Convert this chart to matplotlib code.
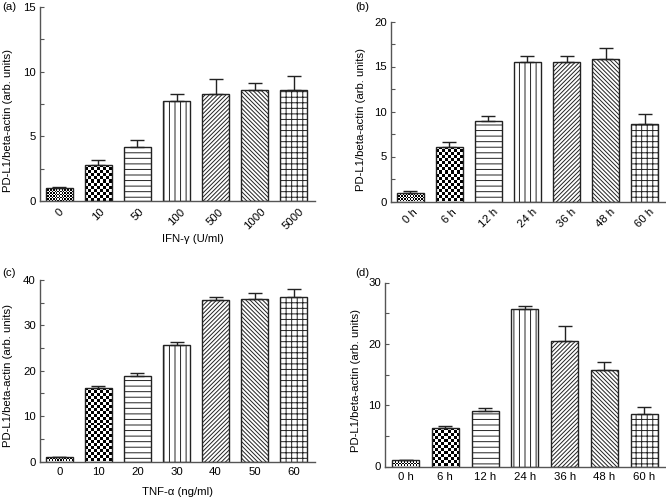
import numpy as np
import matplotlib
matplotlib.use('Agg')
import matplotlib.pyplot as plt

plt.rcParams['font.family'] = ['Liberation Sans', 'DejaVu Sans']
plt.rcParams['font.size'] = 8.2
plt.rcParams['hatch.linewidth'] = 0.7

# --- data ---
a_labels = ['0', '10', '50', '100', '500', '1000', '5000']
a_vals = [1.0, 2.8, 4.2, 7.7, 8.3, 8.55, 8.55]
a_errs = [0.1, 0.4, 0.5, 0.6, 1.1, 0.6, 1.1]

b_labels = ['0 h', '6 h', '12 h', '24 h', '36 h', '48 h', '60 h']
b_vals = [1.0, 6.1, 8.9, 15.55, 15.55, 15.8, 8.6]
b_errs = [0.15, 0.5, 0.6, 0.65, 0.65, 1.3, 1.1]

c_labels = ['0', '10', '20', '30', '40', '50', '60']
c_vals = [1.0, 16.2, 18.9, 25.6, 35.6, 35.9, 36.2]
c_errs = [0.1, 0.35, 0.6, 0.65, 0.65, 1.2, 1.8]

d_labels = ['0 h', '6 h', '12 h', '24 h', '36 h', '48 h', '60 h']
d_vals = [1.0, 6.2, 9.0, 25.6, 20.5, 15.8, 8.6]
d_errs = [0.1, 0.4, 0.6, 0.65, 2.4, 1.3, 1.1]

# fill style per bar position
patterns = ['fine', 'checker', '---', '|||', '////////', '\\\\\\\\\\\\\\\\', '+++']

EDGE = '#222222'
AXIS = '#555555'

fig = plt.figure(figsize=(6.66, 5.0), dpi=100)


def checker_fill(ax, bar, cell_px):
    # checkerboard image clipped to the bar patch
    x0, y0 = bar.get_x(), bar.get_y()
    w, h = bar.get_width(), bar.get_height()
    p0 = ax.transData.transform((x0, y0))
    p1 = ax.transData.transform((x0 + w, y0 + h))
    ncol = max(1, int(round((p1[0] - p0[0]) / cell_px)))
    nrow = max(1, int(round((p1[1] - p0[1]) / cell_px)))
    grid = np.indices((nrow, ncol)).sum(axis=0) % 2
    im = ax.imshow(grid, cmap='gray', vmin=0, vmax=1, origin='lower',
                   extent=(x0, x0 + w, y0, y0 + h), aspect='auto',
                   interpolation='nearest', zorder=1)
    im.set_clip_path(bar)


def panel(rect, labels, vals, errs, ymax, major, minor, tag, tag_xy,
          xlim, rotate, ylab_xy, xlabel=None, xlab_xy=None):
    ax = fig.add_axes(rect)
    x = np.arange(len(vals))
    ax.set_xlim(*xlim)
    ax.set_ylim(0, ymax)

    bars = ax.bar(x, vals, width=0.68, facecolor='none', edgecolor=EDGE,
                  linewidth=1.0, zorder=2)
    for bar, pat in zip(bars, patterns):
        if pat == 'checker':
            checker_fill(ax, bar, 3.0)
        elif pat == 'fine':
            checker_fill(ax, bar, 1.4)
        else:
            bar.set_hatch(pat)
    ax.errorbar(x, vals, yerr=[np.zeros(len(errs)), errs], fmt='none',
                ecolor=EDGE, elinewidth=1.0, capsize=5, capthick=1.0, zorder=3)
    ax.set_xlim(*xlim)
    ax.set_ylim(0, ymax)

    for s in ['top', 'right']:
        ax.spines[s].set_visible(False)
    for s in ['left', 'bottom']:
        ax.spines[s].set_color(AXIS)
        ax.spines[s].set_linewidth(1.0)

    ax.set_yticks(np.arange(0, ymax + 0.01, major))
    ax.set_yticks(np.arange(0, ymax + 0.01, minor), minor=True)
    ax.tick_params(axis='y', which='both', direction='in', length=3,
                   width=0.8, color=AXIS, pad=3)
    ax.set_xticks(x)
    if rotate:
        ax.set_xticklabels(labels, rotation=45, ha='center', va='top')
    else:
        ax.set_xticklabels(labels)
    ax.tick_params(axis='x', length=0, pad=4)

    ax.set_ylabel('PD-L1/beta-actin (arb. units)')
    ax.yaxis.set_label_coords(*ylab_xy)
    if xlabel:
        ax.set_xlabel(xlabel, va='top')
        ax.xaxis.set_label_coords(*xlab_xy)

    fig.text(tag_xy[0], tag_xy[1], tag, va='top', ha='left')
    return ax


panel([0.060, 0.598, 0.413, 0.388], a_labels, a_vals, a_errs, 15, 5, 2.5,
      '(a)', (0.003, 0.997), (-0.5, 6.55), True, (-0.098, 0.417),
      'IFN-\u03b3 (U/ml)', (0.556, -0.172))
panel([0.587, 0.597, 0.413, 0.360], b_labels, b_vals, b_errs, 20, 5, 2.5,
      '(b)', (0.533, 0.997), (-0.5, 6.55), True, (-0.091, 0.454))
panel([0.060, 0.077, 0.413, 0.363], c_labels, c_vals, c_errs, 40, 10, 5,
      '(c)', (0.003, 0.464), (-0.5, 6.55), False, (-0.098, 0.476),
      'TNF-\u03b1 (ng/ml)', (0.5, -0.14))
panel([0.578, 0.067, 0.422, 0.368], d_labels, d_vals, d_errs, 30, 10, 5,
      '(d)', (0.533, 0.463), (-0.52, 6.55), False, (-0.085, 0.469))

fig.savefig('out.png', dpi=100)
